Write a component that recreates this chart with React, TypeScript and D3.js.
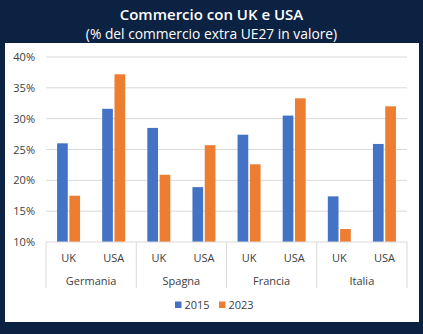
import React from "react";
import * as d3 from "d3";

const countries = ["Germania", "Spagna", "Francia", "Italia"];
const partners = ["UK", "USA"];
const years = ["2015", "2023"];
const values2015 = [26.0, 31.6, 28.5, 18.9, 27.4, 30.5, 17.4, 25.9];
const values2023 = [17.5, 37.2, 20.9, 25.7, 22.6, 33.3, 12.1, 32.0];
const yTicks = [10, 15, 20, 25, 30, 35, 40];
const colors = ["#4472C4", "#ED7D31"];

const W = 423, H = 334;
const plotL = 46, plotR = 407, plotT = 57, plotB = 242;

export default function App() {
  const cats = countries.flatMap((c) => partners.map((p) => `${c}|${p}`));
  const x = d3.scaleBand<string>().domain(cats).range([plotL, plotR]).paddingInner(0).paddingOuter(0);
  const inner = d3.scaleBand<string>().domain(years).range([0, 23]).paddingInner(0.13);
  const y = d3.scaleLinear().domain([10, 40]).range([plotB, plotT]);
  const series = [values2015, values2023];
  const groupW = x.bandwidth() * partners.length;
  const font = "'Open Sans', 'Noto Sans', sans-serif";
  return (
    <svg width={W} height={H} style={{ position: "absolute", left: 0, top: 0 }}>
      <rect x={0} y={0} width={W} height={H} fill="#0c2242" />
      <rect x={5} y={43} width={414} height={279} fill="#ffffff" />
      <text x={W / 2} y={20} textAnchor="middle" fill="#fff" fontFamily={font} fontWeight={600} fontSize={15}>
        Commercio con UK e USA
      </text>
      <text x={W / 2} y={38.5} textAnchor="middle" fill="#fff" fontFamily={font} fontSize={13.8}>
        (% del commercio extra UE27 in valore)
      </text>
      {yTicks.map((t) => (
        <g key={t}>
          {t > 10 && <line x1={plotL} x2={plotR} y1={y(t)} y2={y(t)} stroke="#d9d9d9" strokeWidth={1} />}
          <text x={35} y={y(t) + 4} textAnchor="end" fontFamily={font} fontSize={11} fill="#404040">
            {t}%
          </text>
        </g>
      ))}
      {cats.map((c, i) =>
        series.map((s, k) => (
          <rect
            key={c + k}
            x={x(c)! + x.bandwidth() / 2 - 11.5 + inner(years[k])!}
            y={y(s[i])}
            width={inner.bandwidth()}
            height={y(10) - y(s[i])}
            fill={colors[k]}
          />
        ))
      )}
      <line x1={plotL} x2={plotR} y1={plotB} y2={plotB} stroke="#d9d9d9" />
      {d3.range(countries.length + 1).map((g) => (
        <line key={g} x1={plotL + g * groupW} x2={plotL + g * groupW} y1={plotB} y2={288} stroke="#d9d9d9" />
      ))}
      {cats.map((c) => (
        <text key={c} x={x(c)! + x.bandwidth() / 2} y={262} textAnchor="middle" fontFamily={font} fontSize={11} fill="#404040">
          {c.split("|")[1]}
        </text>
      ))}
      {countries.map((c, g) => (
        <text key={c} x={plotL + g * groupW + groupW / 2} y={285} textAnchor="middle" fontFamily={font} fontSize={11} fill="#404040">
          {c}
        </text>
      ))}
      {years.map((yr, k) => (
        <g key={yr} transform={`translate(${175 + k * 44},0)`}>
          <rect x={0} y={301.5} width={6.5} height={6.5} fill={colors[k]} />
          <text x={9.5} y={309} fontFamily={font} fontSize={11} fill="#404040">
            {yr}
          </text>
        </g>
      ))}
    </svg>
  );
}
